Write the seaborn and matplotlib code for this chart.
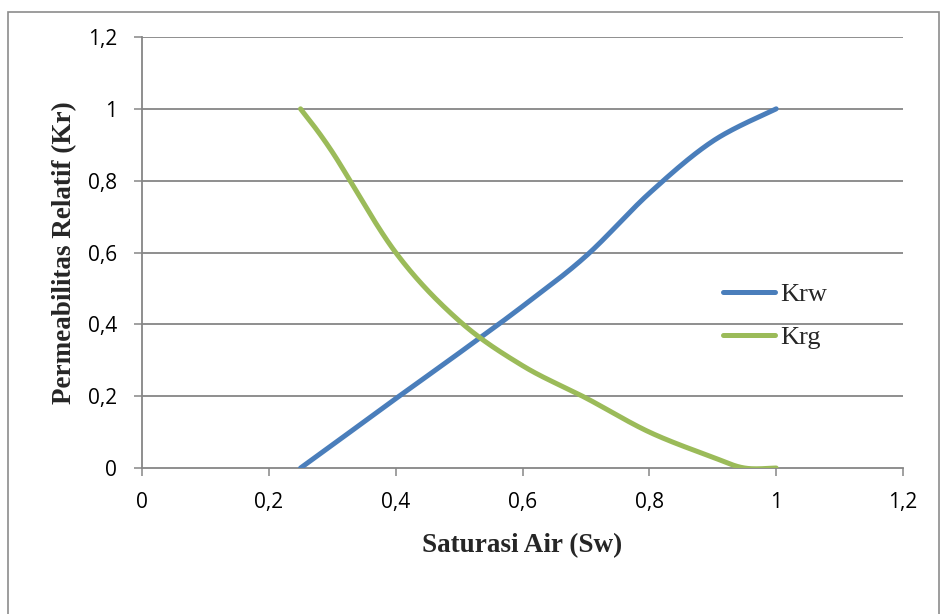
import numpy as np
import pandas as pd
import matplotlib
matplotlib.use("Agg")
import matplotlib.pyplot as plt
from matplotlib.patches import Rectangle
from matplotlib.lines import Line2D
import seaborn as sns

# Relative permeability data (water saturation vs. kr)
sw = [0.25, 0.3, 0.4, 0.5, 0.6, 0.7, 0.8, 0.9, 1.0]
krw = [0.0, 0.064, 0.193, 0.32, 0.45, 0.59, 0.765, 0.91, 1.0]
sw_g = [0.25, 0.3, 0.4, 0.5, 0.6, 0.7, 0.8, 0.9, 0.95, 1.0]
krg = [1.0, 0.88, 0.60, 0.41, 0.285, 0.195, 0.10, 0.03, 0.0, 0.0]

x_ticks = [0, 0.2, 0.4, 0.6, 0.8, 1.0, 1.2]
tick_labels = ["0", "0,2", "0,4", "0,6", "0,8", "1", "1,2"]

BLUE = "#4A7EBB"
GREEN = "#9BBB59"
GRID = "#868686"


def smooth(xs, ys, n=40):
    """Cubic Bezier smoothing through every point (spreadsheet-style smoothed line)."""
    p = np.column_stack([xs, ys]).astype(float)
    ext = np.vstack([p[0], p, p[-1]])
    out = []
    for i in range(len(p) - 1):
        p0, p1, p2, p3 = ext[i], ext[i + 1], ext[i + 2], ext[i + 3]
        c1 = p1 + (p2 - p0) / 6.0
        c2 = p2 - (p3 - p1) / 6.0
        t = np.linspace(0, 1, n, endpoint=(i == len(p) - 2))[:, None]
        seg = ((1 - t) ** 3) * p1 + 3 * ((1 - t) ** 2) * t * c1 + 3 * (1 - t) * t ** 2 * c2 + t ** 3 * p2
        out.append(seg)
    out = np.vstack(out)
    return out[:, 0], out[:, 1]


sns.set_theme(style="white")
plt.rcParams["font.family"] = ["Open Sans", "DejaVu Sans"]

fig = plt.figure(figsize=(9.41, 6.14), dpi=100)
ax = fig.add_axes([142 / 941, 1 - 468 / 614, (903 - 142) / 941, (468 - 37) / 614])

wx, wy = smooth(sw, krw)
gx, gy = smooth(sw_g, krg)
dfw = pd.DataFrame({"Sw": wx, "Kr": wy})
dfg = pd.DataFrame({"Sw": gx, "Kr": gy})
sns.lineplot(data=dfw, x="Sw", y="Kr", sort=False, color=BLUE, lw=3.6,
             ax=ax, solid_capstyle="round", zorder=3)
sns.lineplot(data=dfg, x="Sw", y="Kr", sort=False, color=GREEN, lw=3.6,
             ax=ax, solid_capstyle="round", zorder=3)

ax.set_xlim(0, 1.2)
ax.set_ylim(0, 1.2)
ax.set_xticks(x_ticks)
ax.set_xticklabels(tick_labels)
ax.set_yticks(x_ticks)
ax.set_yticklabels(tick_labels)

ax.grid(False)
for v in x_ticks[1:]:
    ax.axhline(v, color=GRID, lw=1.3, zorder=1)

for s in ["top", "right"]:
    ax.spines[s].set_visible(False)
for s in ["left", "bottom"]:
    ax.spines[s].set_color(GRID)
    ax.spines[s].set_linewidth(1.3)

ax.tick_params(axis="both", which="major", direction="out", length=6,
               width=1.1, color=GRID, labelsize=15, labelcolor="black",
               left=True, bottom=True)
ax.tick_params(axis="y", pad=12)
ax.tick_params(axis="x", pad=11)

serif_bold = dict(family=["Liberation Serif", "DejaVu Serif"], weight="bold", size=19.5)
ax.set_xlabel("Saturasi Air (Sw)", fontdict=serif_bold, labelpad=15)
ax.set_ylabel("Permeabilitas Relatif (Kr)", fontdict=serif_bold, labelpad=8)

handles = [Line2D([], [], color=BLUE, lw=3.6, solid_capstyle="round"),
           Line2D([], [], color=GREEN, lw=3.6, solid_capstyle="round")]
leg = ax.legend(handles, ["Krw", "Krg"], loc="center left",
                bbox_to_anchor=(0.764, 0.353), frameon=False,
                prop={"family": ["Liberation Serif", "DejaVu Serif"], "size": 19},
                handlelength=1.95, handletextpad=0.2, labelspacing=0.75,
                borderpad=0, borderaxespad=0)

# chart-area frame
fig.patches.append(Rectangle((8 / 941, -0.01), 931 / 941, 1.01 - 12 / 614,
                             transform=fig.transFigure, fill=False,
                             edgecolor="#8C8C8C", lw=1.2))

fig.savefig("out.png", dpi=100)
